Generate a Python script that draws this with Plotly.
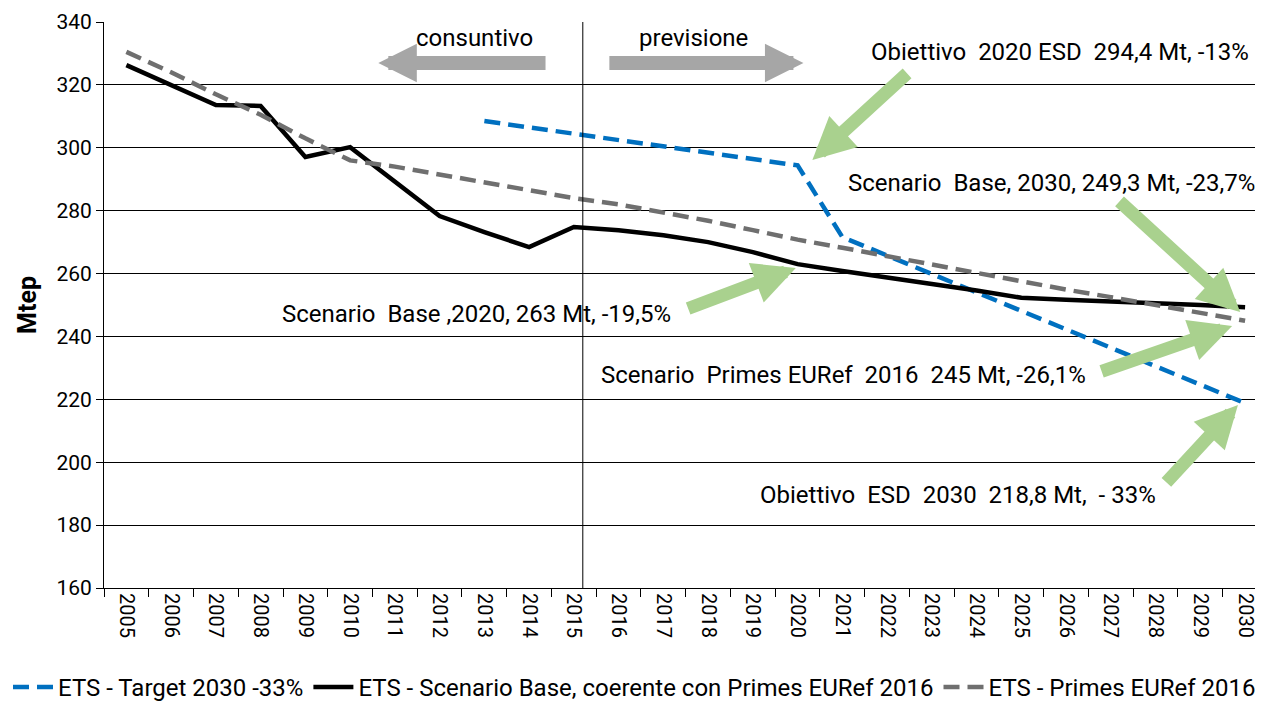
import plotly.graph_objects as go

# years on the x axis
years = [str(y) for y in range(2005, 2031)]

# ETS - Target 2030 -33% (starts in 2013)
target = [None] * 8 + [308.5, 306.5, 304.5, 302.5, 300.5, 298.5, 296.5, 294.4,
                       271.6, 265.7, 259.9, 254.0, 248.1, 242.3, 236.4, 230.5, 224.7, 218.8]

# ETS - Scenario Base
base = [326.3, 320.0, 313.6, 313.3, 297.1, 300.2, 289.1, 278.3, 273.2, 268.4, 274.8,
        273.8, 272.2, 270.0, 266.8, 263.0, 260.8, 258.6, 256.7, 254.6, 252.3,
        251.7, 251.2, 250.6, 250.0, 249.3]

# ETS - Primes EURef 2016
primes = [330.5, 324.0, 317.0, 310.5, 303.0, 296.0, 294.0, 291.5, 289.0, 286.5, 284.0,
          282.0, 279.5, 276.8, 273.8, 270.8, 268.2, 265.5, 262.9, 260.2, 257.4,
          254.9, 252.5, 250.0, 247.5, 245.0]

FONT = "Roboto"
GREEN = "#a9d18e"
GREY_ARROW = "#a6a6a6"

fig = go.Figure()
fig.add_trace(go.Scatter(x=years, y=target, mode="lines", name="ETS - Target 2030 -33%",
                         line=dict(color="#0070c0", width=4.5, dash="16px,8px")))
fig.add_trace(go.Scatter(x=years, y=base, mode="lines",
                         name="ETS - Scenario Base, coerente con Primes EURef 2016",
                         line=dict(color="black", width=4.5)))
fig.add_trace(go.Scatter(x=years, y=primes, mode="lines", name="ETS - Primes EURef 2016",
                         line=dict(color="#6f6f6f", width=4.5, dash="16px,8px")))

# consuntivo / previsione split
fig.add_shape(type="line", x0=10.2, x1=10.2, y0=160, y1=340, xref="x", yref="y",
              line=dict(color="black", width=1))

# text labels (x in category index, y in Mtep)
labels = [
    ("consuntivo", 7.77, 334.9),
    ("previsione", 12.68, 334.9),
    ("Obiettivo\u00a0 2020 ESD\u00a0 294,4 Mt, -13%", 20.87, 330.5),
    ("Scenario\u00a0 Base, 2030, 249,3 Mt, -23,7%", 20.67, 288.8),
    ("Scenario\u00a0 Base ,2020, 263 Mt, -19,5%", 7.83, 247.1),
    ("Scenario\u00a0 Primes EURef\u00a0 2016\u00a0 245 Mt, -26,1%", 16.03, 227.7),
    ("Obiettivo\u00a0 ESD\u00a0 2030\u00a0 218,8 Mt,\u00a0 - 33%", 18.59, 189.6),
]
for txt, lx, ly in labels:
    fig.add_annotation(x=lx, y=ly, text=txt, showarrow=False, xref="x", yref="y",
                       font=dict(family=FONT, size=24, color="black"),
                       xanchor="center", yanchor="middle")

# arrows: (tail x, tail y, tip x, tip y, colour, width, head size)
arrows = [
    (9.40, 327.0, 5.63, 327.0, GREY_ARROW, 14, 0.55),
    (10.76, 327.0, 15.13, 327.0, GREY_ARROW, 14, 0.55),
    (17.48, 324.1, 15.33, 296.1, GREEN, 13, 0.65),
    (22.16, 283.4, 24.89, 247.8, GREEN, 13, 0.65),
    (12.52, 248.7, 14.96, 261.8, GREEN, 13, 0.65),
    (21.76, 228.7, 24.71, 243.3, GREEN, 13, 0.65),
    (23.21, 193.1, 24.84, 218.2, GREEN, 13, 0.65),
]
for ax0, ay0, x1, y1, col, w, hs in arrows:
    fig.add_annotation(x=x1, y=y1, ax=ax0, ay=ay0, xref="x", yref="y",
                       axref="x", ayref="y", text="", showarrow=True,
                       arrowhead=2, arrowsize=hs, arrowwidth=w, arrowcolor=col,
                       standoff=0, startstandoff=0)

# the page body adds an 8px offset, so the figure is shifted/sized to compensate
fig.update_layout(
    width=1255, height=703,
    margin=dict(l=95, r=0, t=14, b=123),
    plot_bgcolor="white", paper_bgcolor="white",
    font=dict(family=FONT, size=21, color="black"),
    showlegend=True,
    legend=dict(orientation="h", x=-0.0825, xanchor="left", y=-0.2155, yanchor="bottom",
                font=dict(family=FONT, size=24), itemwidth=40, tracegroupgap=0,
                borderwidth=0),
    xaxis=dict(type="category", range=[-0.5, 25.4], tickangle=90, tickson="boundaries",
               ticks="outside", ticklen=8, tickcolor="black", showgrid=False,
               showline=True, linecolor="black", linewidth=1, automargin=False,
               tickfont=dict(family=FONT, size=20)),
    yaxis=dict(range=[160, 340], dtick=20, ticks="outside", ticklen=7, tickcolor="black",
               showgrid=True, gridcolor="black", gridwidth=1, showline=True,
               linecolor="black", linewidth=1, zeroline=False, automargin=False,
               tickfont=dict(family=FONT, size=21),
               title=dict(text="<b>Mtep</b>", standoff=12, font=dict(family=FONT, size=25))),
)

fig.write_html("out.html")
